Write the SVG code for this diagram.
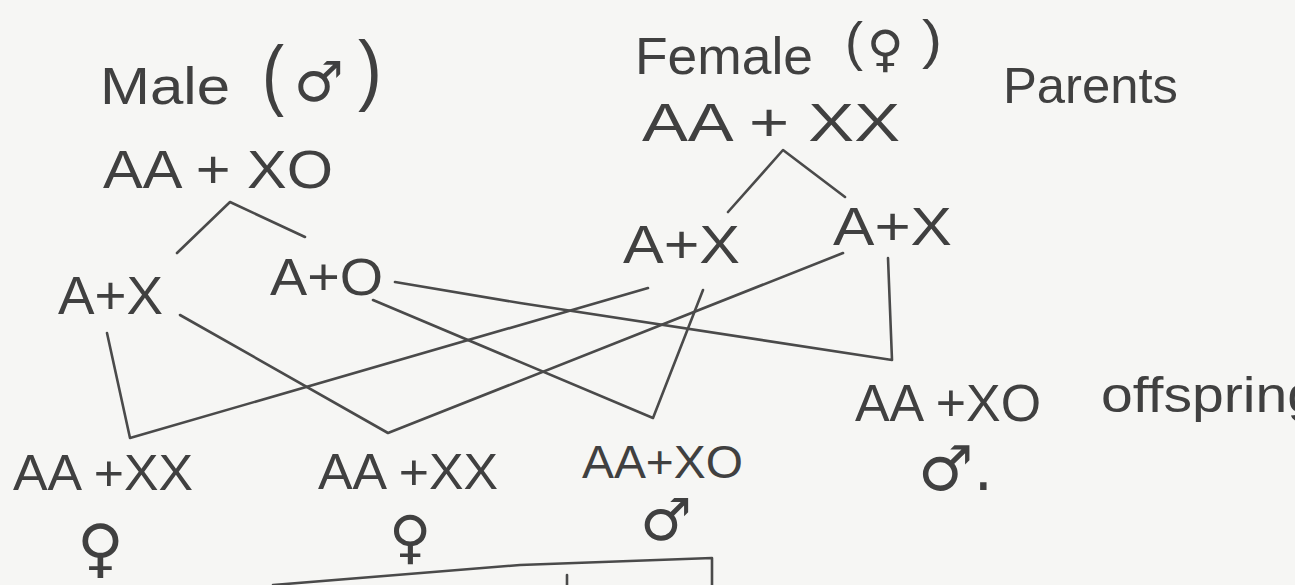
<svg xmlns="http://www.w3.org/2000/svg" width="1295" height="585" viewBox="0 0 1295 585">
<style>
.t{font-family:"Liberation Sans","DejaVu Sans",sans-serif;fill:#404040}
.s{font-family:"DejaVu Sans","Liberation Sans",sans-serif;fill:#404040}
.ln{fill:none;stroke:#4a4a4a;stroke-width:2.6;stroke-linecap:round;stroke-linejoin:round}
</style>
<rect width="1295" height="585" fill="#f6f6f4"/>
<g id="male-parent">
<text class="t" x="100" y="104" font-size="52" textLength="130" lengthAdjust="spacingAndGlyphs">Male</text>
<text class="t" x="262" y="101" font-size="78" textLength="22" lengthAdjust="spacingAndGlyphs">(</text>
<text class="s" x="294" y="101" font-size="56">♂</text>
<text class="t" x="358" y="96" font-size="78" textLength="24" lengthAdjust="spacingAndGlyphs">)</text>
<text class="t" x="103" y="188" font-size="54" textLength="230" lengthAdjust="spacingAndGlyphs">AA + XO</text>
</g>
<g id="female-parent">
<text class="t" x="635" y="74" font-size="52" textLength="178" lengthAdjust="spacingAndGlyphs">Female</text>
<text class="t" x="845" y="60" font-size="54" textLength="18" lengthAdjust="spacingAndGlyphs">(</text>
<text class="s" x="867" y="66" font-size="50">♀</text>
<text class="t" x="922" y="58" font-size="54" textLength="20" lengthAdjust="spacingAndGlyphs">)</text>
<text class="t" x="642" y="141" font-size="54" textLength="258" lengthAdjust="spacingAndGlyphs">AA + XX</text>
</g>
<g id="parents-label">
<text class="t" x="1003" y="103" font-size="50" textLength="175" lengthAdjust="spacingAndGlyphs">Parents</text>
</g>
<g id="gamete-male-x">
<text class="t" x="58" y="314" font-size="54" textLength="105" lengthAdjust="spacingAndGlyphs">A+X</text>
</g>
<g id="gamete-male-o">
<text class="t" x="270" y="295" font-size="52" textLength="113" lengthAdjust="spacingAndGlyphs">A+O</text>
</g>
<g id="gamete-female-x1">
<text class="t" x="623" y="263" font-size="54" textLength="117" lengthAdjust="spacingAndGlyphs">A+X</text>
</g>
<g id="gamete-female-x2">
<text class="t" x="833" y="245" font-size="54" textLength="119" lengthAdjust="spacingAndGlyphs">A+X</text>
</g>
<g id="offspring-1">
<text class="t" x="13" y="490" font-size="50" textLength="180" lengthAdjust="spacingAndGlyphs">AA +XX</text>
<text class="s" x="77" y="570" font-size="64">♀</text>
</g>
<g id="offspring-2">
<text class="t" x="318" y="489" font-size="50" textLength="180" lengthAdjust="spacingAndGlyphs">AA +XX</text>
<text class="s" x="389" y="557" font-size="58">♀</text>
</g>
<g id="offspring-3">
<text class="t" x="582" y="478" font-size="46" textLength="161" lengthAdjust="spacingAndGlyphs">AA+XO</text>
<text class="s" x="640" y="540" font-size="58">♂</text>
</g>
<g id="offspring-4">
<text class="t" x="855" y="421" font-size="52" textLength="186" lengthAdjust="spacingAndGlyphs">AA +XO</text>
<text class="s" x="918" y="490" font-size="62">♂.</text>
</g>
<g id="offspring-label">
<text class="t" x="1101" y="412" font-size="50" textLength="218" lengthAdjust="spacingAndGlyphs">offspring</text>
</g>
<g id="connectors">
<path class="ln" d="M177,253 L230,202 L305,237"/>
<path class="ln" d="M728,212 L783,150 L845,197"/>
<path class="ln" d="M107,333 L130,438 L648,288"/>
<path class="ln" d="M180,315 L388,433 L843,253"/>
<path class="ln" d="M373,300 L653,418 L703,290"/>
<path class="ln" d="M395,282 L520,303 L892,360 L888,258"/>
<path class="ln" d="M273,585 L520,565 L712,558 L712,585"/>
<path class="ln" d="M567,575 L567,585"/>
</g>
</svg>
